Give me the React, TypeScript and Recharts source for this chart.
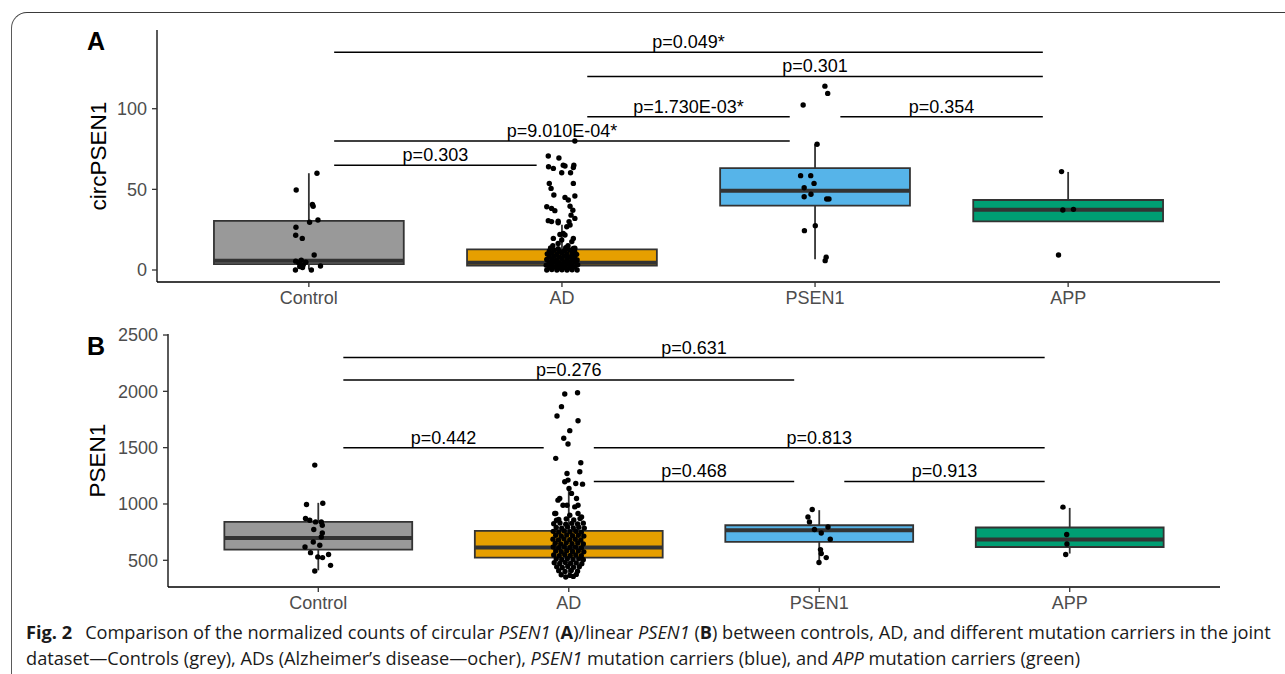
import React from "react";
import {
    ComposedChart,
    Scatter,
    XAxis,
    YAxis,
    ReferenceArea,
    ReferenceLine,
} from "recharts";

const FONT = "'Liberation Sans', Arial, Helvetica, sans-serif";

const groups = ["Control", "AD", "PSEN1", "APP"];
const groupFills = ["#999999", "#E69F00", "#56B4E9", "#009E73"];

// ---- panel A: circular PSEN1 ----
const circTicks = [0, 50, 100];
// [lower whisker, q1, median, q3, upper whisker]
const circBoxes = [
    [0.3, 3.7, 5.8, 30.4, 60],
    [0, 2.7, 4.5, 12.8, 28],
    [6.6, 39.9, 49.2, 63.2, 78],
    [30.2, 30.2, 37.4, 43.4, 60.8],
];
// jittered points: [x offset, value]
const circControl = [
    [0.032, 60], [-0.05, 49.6], [0.014, 40.6], [0.017, 39.5], [0.036, 31], [0.003, 29.6],
    [-0.051, 26.5], [-0.052, 21.5], [-0.026, 19.6], [0.021, 9.3], [-0.052, 5.5], [-0.04, 4.5],
    [-0.03, 6], [-0.022, 3.2], [-0.036, 2.2], [-0.012, 4.8], [0.046, 2.5], [-0.053, 0],
    [0.01, 0], [-0.025, 1.5],
];
const circAD = [
    [-0.054, 70.7], [-0.012, 69.4], [-0.053, 64], [-0.034, 63], [0.005, 65], [0.012, 64.5],
    [0.047, 65], [0.045, 63.5], [-0.001, 60.3], [0.034, 60.3], [-0.05, 53.7], [-0.043, 50.6],
    [0.045, 53.7], [-0.032, 46.5], [0.012, 45], [0.051, 45.9], [0.025, 43.4], [-0.06, 39.2],
    [-0.041, 38.2], [-0.028, 36.8], [0.032, 39.5], [0.043, 37], [0.036, 34], [0.051, 32],
    [0.028, 30], [-0.054, 30.6], [-0.015, 29.3], [0.019, 26.8], [0.005, 22.7], [-0.041, 30],
    [-0.015, 30.2], [0.032, 27.9], [-0.008, 22], [0.012, 21.7], [-0.034, 19.6], [-0.001, 18.6],
    [-0.015, 16.5], [0.039, 17.6], [0.045, 19.6], [-0.036, 15], [0.024, 15], [0.051, 13.5],
    [0.051, 80],
    [-0.06, 0], [-0.04, 0.3], [-0.02, 0], [0.0, 0.2], [0.02, 0], [0.04, 0.1], [0.06, 0],
    [-0.05, 1.5], [-0.03, 1.8], [-0.01, 1.2], [0.01, 1.6], [0.03, 1.4], [0.05, 1.9],
    [-0.062, 3], [-0.04, 3.4], [-0.02, 2.9], [0, 3.2], [0.02, 3.6], [0.04, 3], [0.062, 3.3],
    [-0.05, 4.8], [-0.03, 5.1], [-0.01, 4.6], [0.01, 5], [0.03, 4.7], [0.05, 5.2],
    [-0.06, 6.5], [-0.04, 6.8], [-0.02, 6.3], [0, 6.9], [0.02, 6.4], [0.04, 6.7], [0.06, 6.2],
    [-0.05, 8.2], [-0.03, 8.5], [-0.01, 8], [0.01, 8.6], [0.03, 8.1], [0.05, 8.4],
    [-0.058, 10], [-0.04, 10.3], [-0.02, 9.8], [0, 10.4], [0.02, 9.9], [0.04, 10.2], [0.058, 9.7],
    [-0.05, 11.8], [-0.03, 12.2], [-0.01, 11.6], [0.01, 12], [0.03, 12.4], [0.05, 11.7],
    [-0.045, 13.6], [-0.015, 13.2], [0.015, 13.8], [0.045, 13.3],
];
const circPSEN1 = [
    [0.039, 114], [0.05, 109.5], [-0.047, 102.3], [0.008, 78], [-0.057, 58.5], [-0.017, 58.5],
    [-0.004, 53.7], [-0.043, 51], [-0.016, 47], [-0.043, 45.4], [0.046, 44], [0.055, 44],
    [0.001, 27.5], [-0.042, 24.4], [0.044, 7.9], [0.04, 5.8],
];
const circAPP = [[-0.026, 61], [-0.021, 37.2], [0.021, 37.6], [-0.038, 9.3]];
const circTests = [
    { from: 1, to: 4, y: 135, p: "p=0.049*" },
    { from: 2, to: 4, y: 120, p: "p=0.301" },
    { from: 2, to: 3, y: 95, p: "p=1.730E-03*" },
    { from: 3, to: 4, y: 95, p: "p=0.354" },
    { from: 1, to: 3, y: 80, p: "p=9.010E-04*" },
    { from: 1, to: 2, y: 65, p: "p=0.303" },
];

// ---- panel B: linear PSEN1 ----
const linTicks = [500, 1000, 1500, 2000, 2500];
const linBoxes = [
    [411, 595, 698, 841, 1010],
    [355, 524, 613, 761, 1123],
    [485, 663, 767, 811, 945],
    [560, 618, 684, 791, 965],
];
const linControl = [
    [-0.014, 1345], [-0.047, 995], [0.018, 1007], [-0.051, 871], [-0.034, 856], [-0.011, 841],
    [0.012, 841], [0.016, 811], [-0.018, 773], [0.016, 743], [0.012, 707], [-0.02, 663],
    [0.006, 633], [-0.053, 618], [-0.031, 568], [0.041, 551], [-0.002, 530], [0.017, 524],
    [0.049, 455], [-0.014, 405],
];
const linAD = [
    [-0.016, 1977], [0.035, 1988], [-0.029, 1864], [-0.047, 1781], [0.037, 1739], [0.004, 1651],
    [-0.02, 1583], [-0.003, 1532], [-0.052, 1405], [0.048, 1366], [0.044, 1286], [-0.007, 1271],
    [-0.003, 1212], [0.028, 1182], [0.055, 1176], [-0.016, 1197], [0.001, 1138], [0.011, 1094],
    [0.031, 1049], [-0.043, 1034], [-0.036, 1049], [-0.007, 989], [-0.023, 989], [0.024, 974],
    [0.037, 989], [-0.056, 915], [-0.052, 915], [0.037, 915], [0.004, 900], [0.051, 885],
    [-0.049, 856],
    [-0.04, 862], [-0.01, 868], [0.02, 858], [0.045, 870],
    [-0.06, 825], [-0.035, 831], [-0.012, 820], [0.012, 828], [0.035, 822], [0.058, 830],
    [-0.05, 792], [-0.028, 786], [-0.005, 795], [0.018, 788], [0.04, 793], [0.062, 786],
    [-0.062, 757], [-0.04, 751], [-0.018, 760], [0.005, 753], [0.028, 758], [0.05, 750],
    [-0.052, 722], [-0.03, 716], [-0.008, 725], [0.015, 718], [0.038, 723], [0.06, 715],
    [-0.063, 688], [-0.041, 681], [-0.019, 690], [0.004, 683], [0.026, 687], [0.048, 680],
    [-0.054, 652], [-0.032, 646], [-0.01, 655], [0.013, 648], [0.036, 653], [0.058, 645],
    [-0.062, 618], [-0.04, 611], [-0.018, 620], [0.005, 613], [0.027, 617], [0.05, 610],
    [-0.052, 582], [-0.03, 576], [-0.008, 585], [0.015, 578], [0.038, 583], [0.06, 575],
    [-0.06, 548], [-0.038, 541], [-0.016, 550], [0.006, 543], [0.028, 547], [0.05, 540],
    [-0.05, 512], [-0.028, 506], [-0.006, 515], [0.017, 508], [0.04, 513], [0.058, 505],
    [-0.058, 478], [-0.036, 471], [-0.014, 480], [0.008, 473], [0.03, 477], [0.052, 470],
    [-0.048, 442], [-0.026, 436], [-0.004, 445], [0.019, 438], [0.042, 443],
    [-0.04, 408], [-0.015, 401], [0.01, 410], [0.035, 403],
    [-0.03, 372], [0.005, 366], [0.03, 375], [-0.012, 352], [0.018, 357],
];
const linPSEN1 = [
    [-0.028, 951], [-0.045, 885], [-0.039, 841], [-0.019, 773], [0.008, 743], [0.035, 796],
    [0.044, 687], [0.005, 595], [0.008, 560], [0.028, 524], [-0.001, 480],
];
const linAPP = [[-0.027, 972], [-0.012, 729], [-0.011, 645], [-0.016, 551]];
const linTests = [
    { from: 1, to: 4, y: 2300, p: "p=0.631" },
    { from: 1, to: 3, y: 2100, p: "p=0.276" },
    { from: 1, to: 2, y: 1500, p: "p=0.442" },
    { from: 2, to: 4, y: 1500, p: "p=0.813" },
    { from: 2, to: 3, y: 1200, p: "p=0.468" },
    { from: 3, to: 4, y: 1200, p: "p=0.913" },
];

type Test = { from: number; to: number; y: number; p: string };

type PanelProps = {
    top: number;
    height: number;
    marginTop: number;
    marginBottom: number;
    marginLeft: number;
    yAxisWidth: number;
    domain: [number, number];
    ticks: number[];
    title: string;
    boxes: number[][];
    points: number[][][];
    tests: Test[];
};

const renderDot = (props: any) => (
    <circle cx={props.cx} cy={props.cy} r={2.7} fill="#000000" />
);

function Panel({
    top, height, marginTop, marginBottom, marginLeft, yAxisWidth,
    domain, ticks, title, boxes, points, tests,
}: PanelProps) {
    const data = points.flatMap((grp, gi) =>
        grp.map(([dx, v]) => ({ x: gi + 1 + dx, y: v }))
    );
    const half = 0.375;
    return (
        <div style={{ position: "absolute", left: 0, top }}>
            <ComposedChart
                width={1285}
                height={height}
                margin={{ top: marginTop, right: 65, bottom: marginBottom, left: marginLeft }}
            >
                <XAxis
                    type="number"
                    dataKey="x"
                    domain={[0.4, 4.6]}
                    ticks={[1, 2, 3, 4]}
                    interval={0}
                    allowDataOverflow
                    tickFormatter={(v: number) => groups[v - 1]}
                    height={30}
                    tickSize={5}
                    tickMargin={4}
                    axisLine={{ stroke: "#000", strokeWidth: 1.3 }}
                    tickLine={{ stroke: "#333", strokeWidth: 1.3 }}
                    tick={{ fill: "#4D4D4D", fontSize: 18, fontFamily: FONT }}
                />
                <YAxis
                    type="number"
                    dataKey="y"
                    domain={domain}
                    ticks={ticks}
                    interval={0}
                    allowDataOverflow
                    width={yAxisWidth}
                    tickSize={5}
                    tickMargin={5}
                    axisLine={{ stroke: "#000", strokeWidth: 1.3 }}
                    tickLine={{ stroke: "#333", strokeWidth: 1.3 }}
                    tick={{ fill: "#4D4D4D", fontSize: 18, fontFamily: FONT }}
                    label={{
                        value: title,
                        angle: -90,
                        position: "center",
                        fill: "#000",
                        fontSize: 22.5,
                        fontFamily: FONT,
                    }}
                />
                {boxes.map(([lo, q1], i) => (
                    <ReferenceLine
                        key={"wl" + i}
                        segment={[{ x: i + 1, y: lo }, { x: i + 1, y: q1 }]}
                        stroke="#333"
                        strokeWidth={1.8}
                    />
                ))}
                {boxes.map(([, , , q3, hi], i) => (
                    <ReferenceLine
                        key={"wh" + i}
                        segment={[{ x: i + 1, y: q3 }, { x: i + 1, y: hi }]}
                        stroke="#333"
                        strokeWidth={1.8}
                    />
                ))}
                {boxes.map(([, q1, , q3], i) => (
                    <ReferenceArea
                        key={"box" + i}
                        x1={i + 1 - half}
                        x2={i + 1 + half}
                        y1={q1}
                        y2={q3}
                        fill={groupFills[i]}
                        fillOpacity={1}
                        stroke="#333"
                        strokeWidth={1.8}
                    />
                ))}
                {boxes.map(([, , med], i) => (
                    <ReferenceLine
                        key={"med" + i}
                        segment={[{ x: i + 1 - half, y: med }, { x: i + 1 + half, y: med }]}
                        stroke="#333"
                        strokeWidth={4}
                    />
                ))}
                <Scatter data={data} isAnimationActive={false} shape={renderDot} />
                {tests.map((t, i) => (
                    <ReferenceLine
                        key={"t" + i}
                        segment={[{ x: t.from + 0.1, y: t.y }, { x: t.to - 0.1, y: t.y }]}
                        stroke="#000"
                        strokeWidth={1.5}
                        label={{
                            value: t.p,
                            position: "top",
                            offset: 4,
                            fill: "#000",
                            fontSize: 18,
                            fontFamily: FONT,
                        }}
                    />
                ))}
            </ComposedChart>
        </div>
    );
}

export default function App() {
    return (
        <div
            style={{
                position: "absolute",
                left: 0,
                top: 0,
                width: 1285,
                height: 674,
                background: "#fff",
                overflow: "hidden",
            }}
        >
            <div
                style={{
                    position: "absolute",
                    left: 11,
                    top: 12,
                    width: 1320,
                    height: 700,
                    borderTop: "1px solid #3a3a3a",
                    borderLeft: "1px solid #5a5a5a",
                    borderTopLeftRadius: 16,
                }}
            />
            <Panel
                top={0}
                height={320}
                marginTop={30}
                marginBottom={8}
                marginLeft={40}
                yAxisWidth={117}
                domain={[-7.44, 148.8]}
                ticks={circTicks}
                title="circPSEN1"
                boxes={circBoxes}
                points={[circControl, circAD, circPSEN1, circAPP]}
                tests={circTests}
            />
            <Panel
                top={310}
                height={310}
                marginTop={24}
                marginBottom={3}
                marginLeft={26}
                yAxisWidth={142}
                domain={[263, 2509]}
                ticks={linTicks}
                title="PSEN1"
                boxes={linBoxes}
                points={[linControl, linAD, linPSEN1, linAPP]}
                tests={linTests}
            />
            <svg
                width={1285}
                height={674}
                style={{ position: "absolute", left: 0, top: 0, pointerEvents: "none" }}
            >
                <text x={87} y={50} fontSize={25} fontWeight="bold" fontFamily={FONT} fill="#000">A</text>
                <text x={87} y={355} fontSize={25} fontWeight="bold" fontFamily={FONT} fill="#000">B</text>
            </svg>
            <div
                style={{
                    position: "absolute",
                    left: 26,
                    top: 619,
                    whiteSpace: "nowrap",
                    fontFamily: "'Open Sans', 'Noto Sans', sans-serif",
                    fontSize: 18.2,
                    lineHeight: "26px",
                    color: "#1a1a1a",
                }}
            >
                <b style={{ marginRight: 13 }}>Fig. 2</b>Comparison of the normalized counts of circular <i>PSEN1</i> (<b>A</b>)/linear <i>PSEN1</i> (<b>B</b>) between controls, AD, and different mutation carriers in the joint
                <br />
                dataset—Controls (grey), ADs (Alzheimer’s disease—ocher), <i>PSEN1</i> mutation carriers (blue), and <i>APP</i> mutation carriers (green)
            </div>
        </div>
    );
}
